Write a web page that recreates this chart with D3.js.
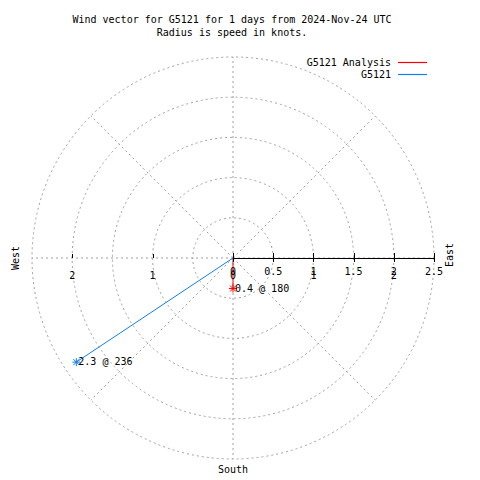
<!DOCTYPE html>
<html>
<head>
<meta charset="utf-8">
<script src="https://cdn.jsdelivr.net/npm/d3@7"></script>
<style>
  html, body { margin: 0; padding: 0; background: #fff; }
  svg text { font-family: "DejaVu Sans Mono", monospace; font-size: 10px; fill: #000; }
</style>
</head>
<body>
<svg id="chart" width="480" height="480"></svg>
<script>
// ---- data ----
const titleLines = ["Wind vector for G5121 for 1 days from 2024-Nov-24 UTC", "Radius is speed in knots."];
const seriesNames = ["G5121 Analysis", "G5121"];
const seriesColors = ["#ff0000", "#1080f0"];
const speeds = [0.38, 2.34];        // knots
const directions = [180, 236.4];    // degrees clockwise from north
const ringValues = [0.5, 1, 1.5, 2, 2.5];
const spokeAngles = [0, 45, 90, 135, 180, 225, 270, 315];
const axisTicks = [0, 0.5, 1, 1.5, 2, 2.5];
const axisTickLabels = ["0", "0.5", "1", "1.5", "2", "2.5"];
const rTicks = [-2, -1, 0, 1, 2];
const rTickLabels = ["2", "1", "0", "1", "2"];
const compassLabels = ["West", "East", "South"];

// ---- layout ----
const svg = d3.select("#chart");
const cx = 233, cy = 258;
const r = d3.scaleLinear().domain([0, 2.5]).range([0, 201]);
const xAxisScale = d3.scaleLinear().domain([-2.5, 2.5]).range([cx - 201, cx + 201]);
const grid = "#a0a0a0";
const dash = "2,3";

// title
svg.selectAll(".title").data(titleLines).join("text")
  .attr("x", 232).attr("y", (d, i) => 20 + i * 13)
  .attr("text-anchor", "middle").attr("dominant-baseline", "middle")
  .text(d => d);

const g = svg.append("g").attr("transform", `translate(${cx},${cy})`);

// rings
g.selectAll(".ring").data(ringValues).join("circle")
  .attr("r", d => r(d)).attr("fill", "none")
  .attr("stroke", grid).attr("stroke-dasharray", dash);

// spokes
g.selectAll(".spoke").data(spokeAngles).join("line")
  .attr("x1", 0).attr("y1", 0)
  .attr("x2", d => d3.pointRadial(d * Math.PI / 180, r(2.5))[0])
  .attr("y2", d => d3.pointRadial(d * Math.PI / 180, r(2.5))[1])
  .attr("stroke", grid).attr("stroke-dasharray", dash);

// solid radial axis (east)
svg.append("line")
  .attr("x1", xAxisScale(0)).attr("x2", xAxisScale(2.5))
  .attr("y1", cy + 0.5).attr("y2", cy + 0.5)
  .attr("stroke", "#000").attr("stroke-width", 1);
svg.selectAll(".atick").data(axisTicks).join("line")
  .attr("x1", d => Math.round(xAxisScale(d)) + 0.5).attr("x2", d => Math.round(xAxisScale(d)) + 0.5)
  .attr("y1", cy - 5).attr("y2", cy + 4)
  .attr("stroke", "#000");
svg.selectAll(".alab").data(axisTicks).join("text")
  .attr("x", d => xAxisScale(d)).attr("y", cy + 14)
  .attr("text-anchor", "middle").attr("dominant-baseline", "middle")
  .text((d, i) => axisTickLabels[i]);

// r ticks across (west side ticks + labels)
svg.selectAll(".rtick").data(rTicks.filter(d => d < 0)).join("line")
  .attr("x1", d => Math.round(xAxisScale(d)) + 0.5).attr("x2", d => Math.round(xAxisScale(d)) + 0.5)
  .attr("y1", cy - 4).attr("y2", cy)
  .attr("stroke", "#000");
svg.selectAll(".rlab").data(rTicks).join("text")
  .attr("x", d => xAxisScale(d)).attr("y", cy + 18)
  .attr("text-anchor", "middle").attr("dominant-baseline", "middle")
  .text((d, i) => rTickLabels[i]);

// compass labels
svg.append("text").attr("transform", `translate(16,${cy}) rotate(-90)`)
  .attr("text-anchor", "middle").attr("dominant-baseline", "middle").text(compassLabels[0]);
svg.append("text").attr("transform", `translate(450,${cy - 3}) rotate(-90)`)
  .attr("text-anchor", "middle").attr("dominant-baseline", "middle").text(compassLabels[1]);
svg.append("text").attr("x", cx).attr("y", 470)
  .attr("text-anchor", "middle").attr("dominant-baseline", "middle").text(compassLabels[2]);

// vectors
const pts = speeds.map((s, i) => d3.pointRadial(directions[i] * Math.PI / 180, r(s)));
g.selectAll(".vec").data(pts).join("line")
  .attr("x1", 0).attr("y1", 0)
  .attr("x2", d => d[0]).attr("y2", d => d[1])
  .attr("stroke", (d, i) => seriesColors[i]).attr("stroke-width", 1);

// asterisk markers
const star = "M-4,0H4M0,-4V4M-3,-3L3,3M-3,3L3,-3";
g.selectAll(".mk").data(pts).join("path")
  .attr("transform", d => `translate(${d[0]},${d[1]})`)
  .attr("d", star).attr("fill", "none")
  .attr("stroke", (d, i) => seriesColors[i]).attr("stroke-width", 1);

// point labels
g.selectAll(".plab").data(pts).join("text")
  .attr("x", d => d[0] + 2).attr("y", d => d[1])
  .attr("dominant-baseline", "middle")
  .text((d, i) => `${d3.format(".1f")(speeds[i])} @ ${Math.round(directions[i])}`);

// legend
const leg = svg.selectAll(".leg").data(seriesNames).join("g")
  .attr("transform", (d, i) => `translate(0,${63 + i * 12})`);
leg.append("text").attr("x", 391).attr("y", 0)
  .attr("text-anchor", "end").attr("dominant-baseline", "middle").text(d => d);
leg.append("line").attr("x1", 398).attr("x2", 427).attr("y1", -0.5).attr("y2", -0.5)
  .attr("stroke", (d, i) => seriesColors[i]).attr("stroke-width", 1.2);
</script>
</body>
</html>
